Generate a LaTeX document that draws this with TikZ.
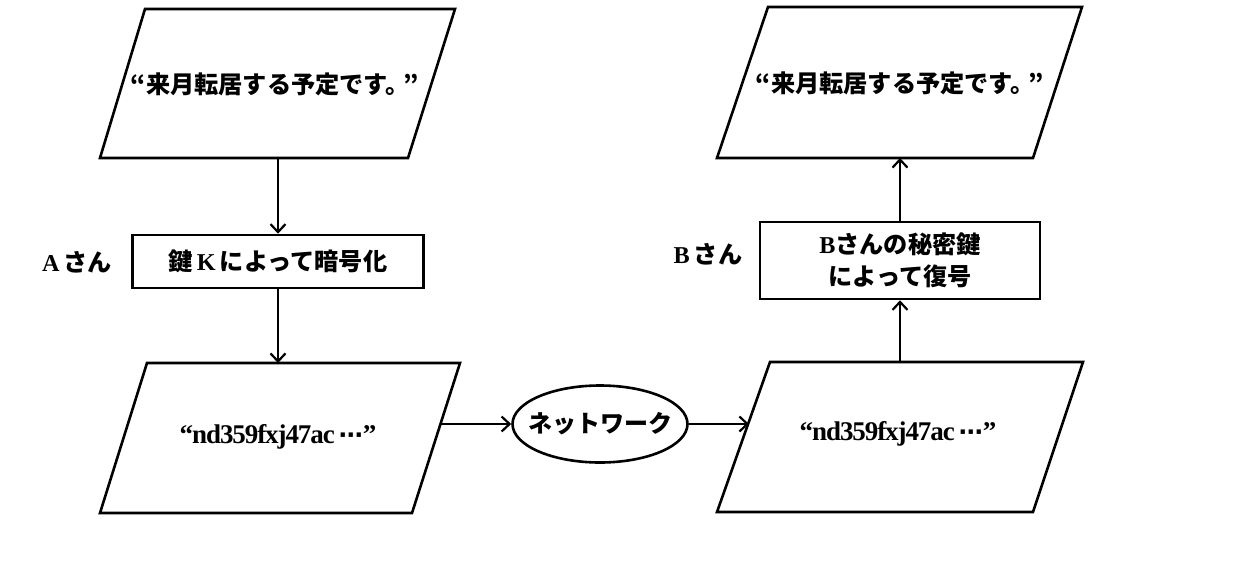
\documentclass[tikz,border=0pt]{standalone}
\usepackage{fontspec}
\setmainfont{Liberation Serif}
\newfontfamily\jp{Noto Sans CJK JP}
\newfontfamily\sym{DejaVu Sans}
\usetikzlibrary{arrows.meta,shapes.geometric}
\newcommand\lat[1]{{\rmfamily\bfseries #1}}
\newcommand\code[1]{{\rmfamily\bfseries\fontsize{27}{32}\selectfont\addfontfeatures{LetterSpace=-4}#1}}
\newcommand\mdots{{\sym\bfseries\fontsize{24}{32}\selectfont ⋯}}
\tikzset{
  shapeline/.style={line width=2.6pt, line join=miter},
  conn/.style={line width=2.2pt, -{Straight Barb[length=8pt,width=15pt,line width=2.2pt]}},
  lbl/.style={font=\jp\bfseries\fontsize{24.2}{32}\selectfont, align=center, inner sep=0pt},
  procbox/.style={draw, shapeline, inner sep=0pt},
  netoval/.style={draw, ellipse, shapeline, inner sep=0pt, minimum width=175pt, minimum height=77pt}
}
\begin{document}
\begin{tikzpicture}[x=1pt,y=-1pt]
\useasboundingbox (0,0) rectangle (1250,560);
% parallelogram 1 (top left)
\coordinate (p1tl) at (145,9); \coordinate (p1tr) at (455,9);
\coordinate (p1br) at (408,158); \coordinate (p1bl) at (100,158);
\draw[shapeline] (p1tl) -- (p1tr) -- (p1br) -- (p1bl) -- cycle;
\coordinate (p1b) at (278,158);
\node[lbl] (t1) at (275,84) {“来月転居する予定です。\kern-6pt”};
% box A
\node[procbox, minimum width=291pt, minimum height=53pt, lbl, draw] (boxA) at (278,261.5) {鍵\,\lat{K}\,によって暗号化};
\node[lbl] (labA) at (77,262) {\lat{A}\,さん};
% parallelogram 2 (bottom left)
\coordinate (p2tl) at (147,363); \coordinate (p2tr) at (460,363);
\coordinate (p2br) at (412,513); \coordinate (p2bl) at (100,513);
\draw[shapeline] (p2tl) -- (p2tr) -- (p2br) -- (p2bl) -- cycle;
\coordinate (p2t) at (278,363);
\coordinate (p2r) at (441,424);
\node[lbl] (t2) at (278,437) {\code{“nd359fxj47ac}\,\mdots\code{”}};
% network ellipse
\node[netoval] (net) at (600,424) {};
\node[lbl, font=\jp\bfseries\fontsize{24}{32}\selectfont] (nettext) at (net.center) {ネットワーク};
% parallelogram 3 (bottom right)
\coordinate (p3tl) at (770,362); \coordinate (p3tr) at (1083,362);
\coordinate (p3br) at (1033,512); \coordinate (p3bl) at (717,512);
\draw[shapeline] (p3tl) -- (p3tr) -- (p3br) -- (p3bl) -- cycle;
\coordinate (p3t) at (900,362);
\coordinate (p3l) at (749,424);
\node[lbl] (t3) at (898,434) {\code{“nd359fxj47ac}\,\mdots\code{”}};
% box B
\node[procbox, minimum width=280pt, minimum height=77pt, lbl, draw] (boxB) at (900,260.5) {\lat{B}さんの秘密鍵\\によって復号};
\node[lbl] (labB) at (708,254) {\lat{B}\,さん};
% parallelogram 4 (top right)
\coordinate (p4tl) at (768,7); \coordinate (p4tr) at (1082,7);
\coordinate (p4br) at (1033,158); \coordinate (p4bl) at (717,158);
\draw[shapeline] (p4tl) -- (p4tr) -- (p4br) -- (p4bl) -- cycle;
\coordinate (p4b) at (900,158);
\node[lbl] (t4) at (900,83) {“来月転居する予定です。\kern-6pt”};
% connectors
\draw[conn] (p1b) -- (boxA.north);
\draw[conn] (boxA.south) -- (p2t);
\draw[conn] (p2r) -- (net.west);
\draw[conn] (net.east) -- (p3l);
\draw[conn] (p3t) -- (boxB.south);
\draw[conn] (boxB.north) -- (p4b);
\end{tikzpicture}
\end{document}
